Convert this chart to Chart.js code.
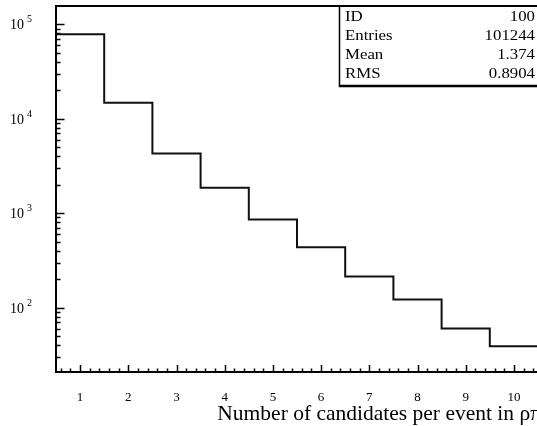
<!DOCTYPE html>
<html>
<head>
<meta charset="utf-8">
<script src="https://cdn.jsdelivr.net/npm/chart.js@4/dist/chart.umd.min.js"></script>
<style>
  html, body { margin: 0; padding: 0; background: #fff; overflow: hidden; }
  canvas { display: block; }
</style>
</head>
<body>
<canvas id="histChart" width="540" height="426"></canvas>
<script>
// Number of candidates per event (bin centres) and bin contents
const nCandidates = [1, 2, 3, 4, 5, 6, 7, 8, 9, 10];
const counts = [78300, 14750, 4285, 1854, 856, 436, 213, 122, 60, 39];
const xTicks = [1, 2, 3, 4, 5, 6, 7, 8, 9, 10];
const yExponents = [2, 3, 4, 5];
const statsLabels = ['ID', 'Entries', 'Mean', 'RMS'];
const statsValues = ['100', '101244', '1.374', '0.8904'];

const xMin = 0.5, xMax = 10.5;
const yMin = 20.8, yMax = 156000;

// step outline: one point per bin low edge + closing point at upper edge
const points = nCandidates.map((c, i) => ({ x: c - 0.5, y: counts[i] }));
points.push({ x: nCandidates[nCandidates.length - 1] + 0.5, y: counts[counts.length - 1] });

const serif = '"Liberation Serif", "DejaVu Serif", serif';

// ROOT-ish stats text is a bit wider than plain Times
function stretchedText(ctx, txt, x, y, align) {
  const sx = 1.2;
  ctx.save();
  ctx.translate(x, y);
  ctx.scale(sx, 1);
  ctx.textAlign = align;
  ctx.fillText(txt, 0, 0);
  ctx.restore();
}

const rootFrame = {
  id: 'rootFrame',
  afterDraw(chart) {
    const ctx = chart.ctx;
    const area = chart.chartArea;
    const xs = chart.scales.x, ys = chart.scales.y;
    ctx.save();
    ctx.strokeStyle = '#000';
    ctx.fillStyle = '#000';

    // frame: left, bottom, top
    ctx.lineWidth = 2;
    ctx.beginPath();
    ctx.moveTo(area.right + 2, area.top);
    ctx.lineTo(area.left, area.top);
    ctx.lineTo(area.left, area.bottom);
    ctx.lineTo(area.right + 2, area.bottom);
    ctx.stroke();

    // y ticks (log)
    ctx.lineWidth = 1.5;
    ctx.beginPath();
    for (let e = 1; e <= 5; e++) {
      for (let m = 1; m <= 9; m++) {
        const v = m * Math.pow(10, e);
        if (v < yMin || v > yMax) continue;
        const py = Math.round(ys.getPixelForValue(v)) + 0.5;
        ctx.moveTo(area.left, py);
        ctx.lineTo(area.left + (m === 1 ? 8.5 : 4.5), py);
      }
    }
    // x ticks
    for (let k = 3; k <= 52; k++) {
      const v = k * 0.2;
      if (v <= xMin || v >= xMax) continue;
      const px = Math.round(xs.getPixelForValue(v)) + 0.5;
      const major = k % 5 === 0;
      ctx.moveTo(px, area.bottom);
      ctx.lineTo(px, area.bottom - (major ? 7 : 3.5));
    }
    ctx.stroke();

    // x tick labels
    ctx.font = '13px ' + serif;
    ctx.textAlign = 'center';
    ctx.textBaseline = 'alphabetic';
    xTicks.forEach(t => {
      ctx.fillText(String(t), xs.getPixelForValue(t), 401);
    });

    // y tick labels 10^n
    yExponents.forEach(e => {
      const py = ys.getPixelForValue(Math.pow(10, e));
      ctx.font = '14px ' + serif;
      ctx.textAlign = 'right';
      ctx.textBaseline = 'alphabetic';
      ctx.fillText('10', 24, py + 5);
      ctx.font = '10px ' + serif;
      ctx.textAlign = 'left';
      ctx.fillText(String(e), 27, py - 2);
    });

    // axis title
    ctx.font = '21.5px ' + serif;
    ctx.textAlign = 'right';
    ctx.fillText('Number of candidates per event in \u03c1\u03c0', 541, 420);

    // stats box
    const bx = 339.5, by = area.top, bb = 86;
    ctx.fillStyle = '#fff';
    ctx.fillRect(bx, by + 1, 540 - bx, bb - by - 1);
    ctx.lineWidth = 1.5;
    ctx.beginPath();
    ctx.moveTo(bx, by);
    ctx.lineTo(bx, bb);
    ctx.stroke();
    ctx.lineWidth = 2.5;
    ctx.beginPath();
    ctx.moveTo(bx - 0.75, bb);
    ctx.lineTo(540, bb);
    ctx.stroke();
    ctx.fillStyle = '#000';
    ctx.font = '14px ' + serif;
    ctx.textBaseline = 'middle';
    statsLabels.forEach((lab, i) => {
      const ry = 17.5 + i * 19;
      stretchedText(ctx, lab, 345, ry, 'left');
      stretchedText(ctx, statsValues[i], 535, ry, 'right');
    });
    ctx.restore();
  }
};

new Chart(document.getElementById('histChart'), {
  type: 'line',
  data: {
    datasets: [{
      label: 'ID 100',
      data: points,
      stepped: 'before',
      borderColor: '#111',
      borderWidth: 2,
      pointRadius: 0,
      fill: false,
      tension: 0
    }]
  },
  options: {
    responsive: false,
    animation: false,
    layout: { padding: { left: 56, top: 6, right: 2, bottom: 54 } },
    plugins: { legend: { display: false }, tooltip: { enabled: false } },
    scales: {
      x: { type: 'linear', min: xMin, max: xMax, display: false },
      y: { type: 'logarithmic', min: yMin, max: yMax, display: false }
    }
  },
  plugins: [rootFrame]
});
</script>
</body>
</html>
